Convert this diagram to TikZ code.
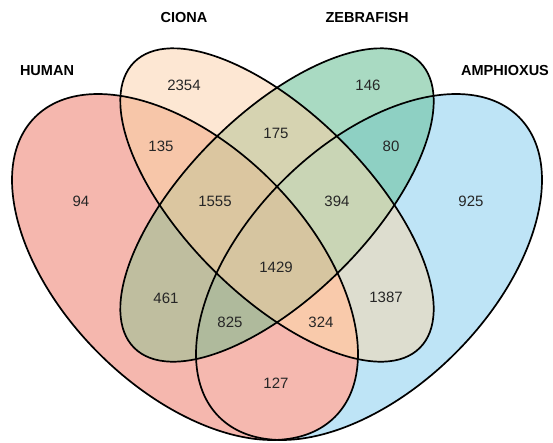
\documentclass[tikz,border=0pt]{standalone}
\usepackage{fontspec}
\setmainfont{Liberation Sans}
\definecolor{cH}{HTML}{F5B7AE}
\definecolor{cC}{HTML}{FDE7D3}
\definecolor{cZ}{HTML}{A9DAC2}
\definecolor{cA}{HTML}{BEE4F6}
\definecolor{cHC}{HTML}{F7C6A9}
\definecolor{cHZ}{HTML}{BFBE9F}
\definecolor{cHA}{HTML}{F5B8AF}
\definecolor{cCZ}{HTML}{D6D3B1}
\definecolor{cCA}{HTML}{DDDDCF}
\definecolor{cZA}{HTML}{8ED0C3}
\definecolor{cHCZ}{HTML}{DBC6A0}
\definecolor{cHCA}{HTML}{F9CAAB}
\definecolor{cHZA}{HTML}{AFBA9C}
\definecolor{cCZA}{HTML}{C9D5B5}
\definecolor{cHCZA}{HTML}{D6C5A0}
\newcommand\EllH[1]{\path[#1,rotate around={-45:(185,267)}] (185,267) ellipse [x radius=212pt,y radius=122pt];}
\newcommand\EllC[1]{\path[#1,rotate around={-45:(277,205)}] (277,205) ellipse [x radius=202pt,y radius=91pt];}
\newcommand\EllZ[1]{\path[#1,rotate around={45:(277,205)}] (277,205) ellipse [x radius=202pt,y radius=91pt];}
\newcommand\EllA[1]{\path[#1,rotate around={45:(369,267)}] (369,267) ellipse [x radius=212pt,y radius=122pt];}
\begin{document}
\begin{tikzpicture}[x=1pt,y=-1pt,
  setlabel/.style={font=\bfseries\fontsize{14.5}{16}\selectfont},
  num/.style={font=\fontsize{15}{17}\selectfont, text=black!85},
  outline/.style={draw=black, line width=1.7pt}]
\fill[white] (0,0) rectangle (553,442);
\useasboundingbox (0,0) rectangle (553,442);
% single sets
\EllH{fill=cH}
\EllC{fill=cC}
\EllZ{fill=cZ}
\EllA{fill=cA}
% pairs
\begin{scope}\EllH{clip}\EllC{fill=cHC}\end{scope}
\begin{scope}\EllH{clip}\EllZ{fill=cHZ}\end{scope}
\begin{scope}\EllH{clip}\EllA{fill=cHA}\end{scope}
\begin{scope}\EllC{clip}\EllZ{fill=cCZ}\end{scope}
\begin{scope}\EllC{clip}\EllA{fill=cCA}\end{scope}
\begin{scope}\EllZ{clip}\EllA{fill=cZA}\end{scope}
% triples
\begin{scope}\EllH{clip}\EllC{clip}\EllZ{fill=cHCZ}\end{scope}
\begin{scope}\EllH{clip}\EllC{clip}\EllA{fill=cHCA}\end{scope}
\begin{scope}\EllH{clip}\EllZ{clip}\EllA{fill=cHZA}\end{scope}
\begin{scope}\EllC{clip}\EllZ{clip}\EllA{fill=cCZA}\end{scope}
% all four
\begin{scope}\EllH{clip}\EllC{clip}\EllZ{clip}\EllA{fill=cHCZA}\end{scope}
% outlines
\EllH{outline}
\EllC{outline}
\EllZ{outline}
\EllA{outline}
% set labels
\node[setlabel] (lH) at (47,71) {HUMAN};
\node[setlabel] (lC) at (184,18) {CIONA};
\node[setlabel] (lZ) at (367,18) {ZEBRAFISH};
\node[setlabel] (lA) at (505,71) {AMPHIOXUS};
% counts
\node[num] (n94) at (81,201) {94};
\node[num] (n2354) at (184,85) {2354};
\node[num] (n146) at (368,85) {146};
\node[num] (n925) at (471,201) {925};
\node[num] (n135) at (161,146) {135};
\node[num] (n175) at (276,133) {175};
\node[num] (n80) at (391,146) {80};
\node[num] (n1555) at (215,201) {1555};
\node[num] (n394) at (337,201) {394};
\node[num] (n1429) at (276,267) {1429};
\node[num] (n461) at (166,298) {461};
\node[num] (n1387) at (386,297) {1387};
\node[num] (n825) at (230,322) {825};
\node[num] (n324) at (321,322) {324};
\node[num] (n127) at (276,383) {127};
\end{tikzpicture}
\end{document}
